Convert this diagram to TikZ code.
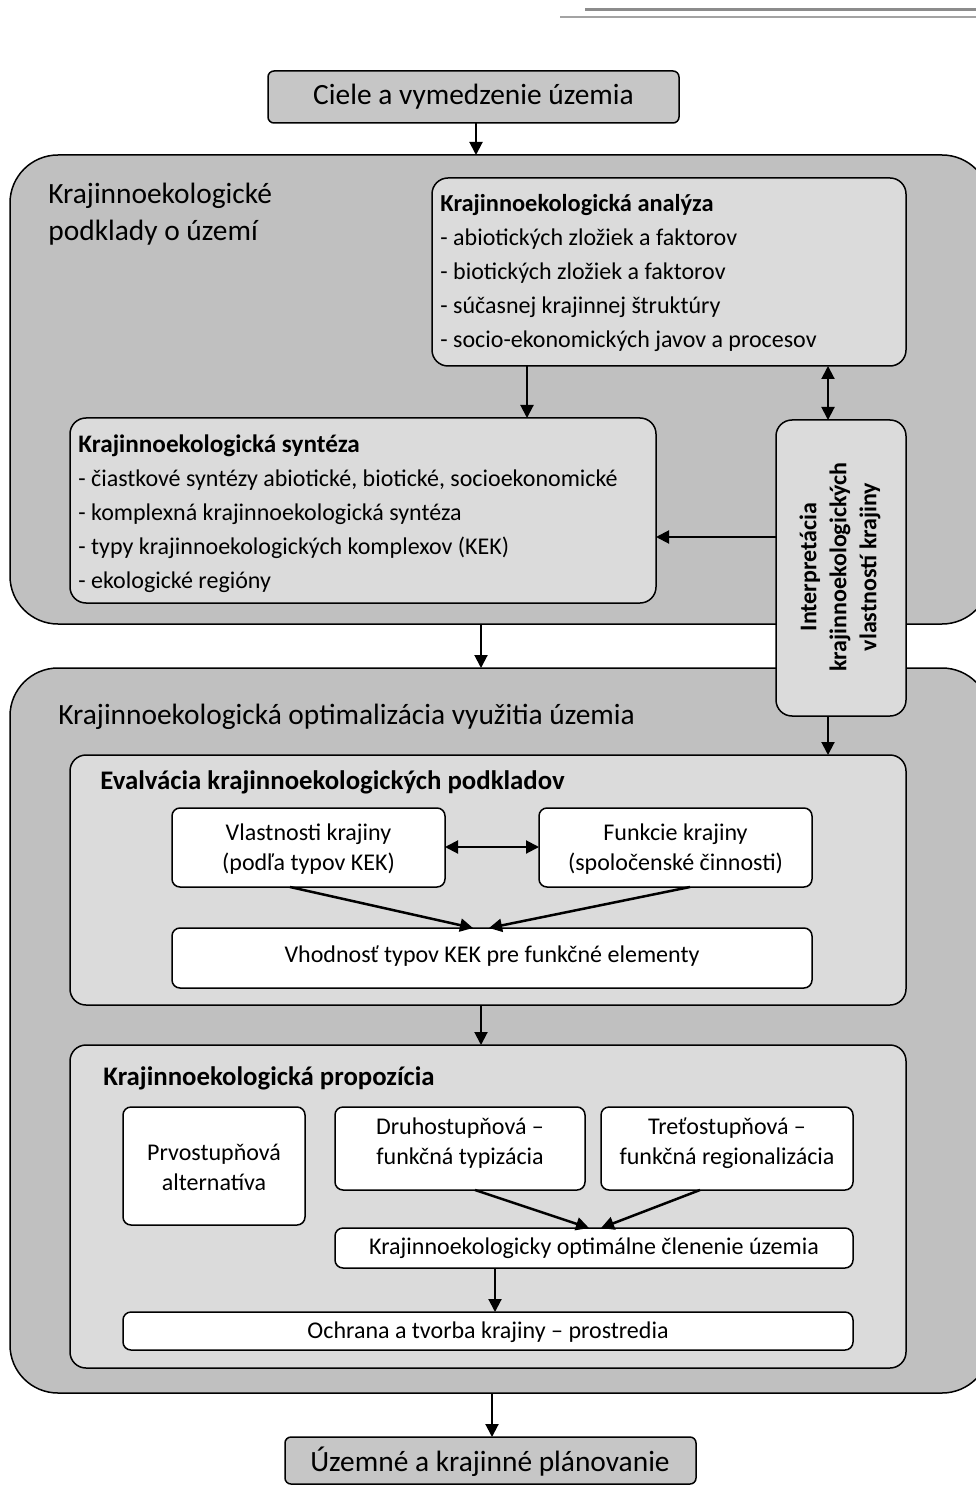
\documentclass[tikz,border=0pt]{standalone}
\usepackage{fontspec}
\setmainfont{Carlito}
\usetikzlibrary{arrows.meta,fit,calc}
\definecolor{outergray}{RGB}{192,192,192}
\definecolor{panelgray}{RGB}{219,219,219}
\definecolor{endgray}{RGB}{198,198,198}
\definecolor{rulegray}{RGB}{140,140,140}
\begin{document}
\begin{tikzpicture}[x=0.5pt,y=-0.5pt,
  box/.style={draw=black, line width=0.75pt, inner sep=0pt, outer sep=0pt},
  outerbox/.style={box, fill=outergray, rounded corners=24pt},
  panel/.style={box, fill=panelgray, rounded corners=8pt},
  whitebox/.style={box, fill=white, rounded corners=4pt},
  endbox/.style={box, fill=endgray, rounded corners=3pt},
  arr/.style={line width=1pt, -{Triangle[length=6.5pt,width=6.5pt]}},
  darr/.style={line width=1pt, {Triangle[length=6.5pt,width=6.5pt]}-{Triangle[length=6.5pt,width=6.5pt]}},
  bigtxt/.style={inner sep=0pt, font=\fontsize{14.7}{18.5}\selectfont},
  listtxt/.style={inner sep=0pt, anchor=base west, font=\fontsize{12}{14}\selectfont},
  headtxt/.style={inner sep=0pt, anchor=base west, font=\fontsize{12.2}{14}\selectfont\bfseries},
  bighead/.style={inner sep=0pt, anchor=base west, font=\fontsize{13.4}{15}\selectfont\bfseries},
  boxtxt/.style={inner sep=0pt, align=center, font=\fontsize{12}{15}\selectfont},
]
\useasboundingbox (0,0) rectangle (975,1486);

% header rules
\draw[rulegray, line width=1.5pt] (585,10) -- (980,10);
\draw[rulegray!80, line width=1pt] (560,17) -- (980,17);

% top box
\node[endbox, fit={(268,71) (679,123)}] (ciele) {};
\node[bigtxt] (cieletxt) at (473.5,97) {Ciele a vymedzenie územia};

% first large panel
\node[outerbox, fit={(10,155) (990,624)}] (podklady) {};
\node[bigtxt, anchor=base west, align=left] (podkladytxt) at (48,241)
  {Krajinnoekologické\\podklady o území};

% analysis
\node[panel, fit={(432,178) (906,366)}] (analyza) {};
\node[headtxt] (anah) at (440,212) {Krajinnoekologická analýza};
\foreach \t [count=\i] in {abiotických zložiek a faktorov,
    biotických zložiek a faktorov,
    súčasnej krajinnej štruktúry,
    socio-ekonomických javov a procesov}
  \node[listtxt] (ana\i) at (440,212+33.8*\i) {- \t};

% synthesis
\node[panel, fit={(70,418) (656,603)}] (synteza) {};
\node[headtxt, font=\fontsize{12.6}{14}\selectfont\bfseries] (synh) at (78,452) {Krajinnoekologická syntéza};
\foreach \t [count=\i] in {{čiastkové syntézy abiotické, biotické, socioekonomické},
    komplexná krajinnoekologická syntéza,
    typy krajinnoekologických komplexov (KEK),
    ekologické regióny}
  \node[listtxt] (syn\i) at (78,452+34*\i) {- \t};

% second large panel
\node[outerbox, fit={(10,668) (990,1393)}] (optim) {};
\node[bigtxt, anchor=base west] (optimtxt) at (58,724)
  {Krajinnoekologická optimalizácia využitia územia};

% interpretation box spanning both panels
\node[panel, fit={(776,420) (906,716)}] (interp) {};
\node[inner sep=0pt, rotate=90, align=center,
      font=\fontsize{12}{15}\selectfont\bfseries] (interptxt) at (840,567)
  {Interpretácia\\krajinnoekologických\\vlastností krajiny};

% evaluation
\node[panel, fit={(70,755) (906,1005)}] (evalv) {};
\node[bighead] (evalh) at (100,789)
  {Evalvácia krajinnoekologických podkladov};
\node[whitebox, fit={(172,808) (445,887)}] (vlast) {};
\node[boxtxt] (vlasttxt) at (308.5,849) {Vlastnosti krajiny\\(podľa typov KEK)};
\node[whitebox, fit={(539,808) (812,887)}] (funk) {};
\node[boxtxt] (funktxt) at (675.5,849) {Funkcie krajiny\\(spoločenské činnosti)};
\node[whitebox, fit={(172,928) (812,988)}] (vhod) {};
\node[boxtxt] (vhodtxt) at (492,956) {Vhodnosť typov KEK pre funkčné elementy};

% proposition
\node[panel, fit={(70,1045) (906,1368)}] (propoz) {};
\node[bighead] (propozh) at (103,1085)
  {Krajinnoekologická propozícia};
\node[whitebox, fit={(123,1107) (305,1225)}] (prvo) {};
\node[boxtxt] (prvotxt) at (214,1167) {Prvostupňová\\alternatíva};
\node[whitebox, fit={(335,1107) (585,1190)}] (druho) {};
\node[boxtxt] (druhotxt) at (460,1143) {Druhostupňová –\\funkčná typizácia};
\node[whitebox, fit={(601,1107) (853,1190)}] (treto) {};
\node[boxtxt] (tretotxt) at (727,1143) {Treťostupňová –\\funkčná regionalizácia};
\node[whitebox, fit={(335,1228) (853,1268)}] (clen) {};
\node[boxtxt] (clentxt) at (594,1248) {Krajinnoekologicky optimálne členenie územia};
\node[whitebox, fit={(123,1312) (853,1350)}] (ochr) {};
\node[boxtxt] (ochrtxt) at (488,1332) {Ochrana a tvorba krajiny – prostredia};

% bottom box
\node[endbox, fit={(285,1437) (696,1484)}] (uzemne) {};
\node[bigtxt] (uzemnetxt) at (490,1462) {Územné a krajinné plánovanie};

% connectors
\draw[arr] (ciele.south -| 476,0) -- (podklady.north -| 476,0);
\draw[arr] (analyza.south -| 527,0) -- (synteza.north -| 527,0);
\draw[darr] (analyza.south -| 828,0) -- (interp.north -| 828,0);
\draw[arr] (interp.west |- 0,537) -- (synteza.east |- 0,537);
\draw[arr] (podklady.south -| 481,0) -- (optim.north -| 481,0);
\draw[arr] (interp.south -| 828,0) -- (evalv.north -| 828,0);
\draw[darr] (vlast.east |- 0,847) -- (funk.west |- 0,847);
\draw[arr, line width=1.25pt] (vlast.south -| 290,0) -- (vhod.north -| 473,0);
\draw[arr, line width=1.25pt] (funk.south -| 690,0) -- (vhod.north -| 489,0);
\draw[arr] (evalv.south -| 481,0) -- (propoz.north -| 481,0);
\draw[arr, line width=1.25pt] (druho.south -| 475,0) -- (clen.north -| 589,0);
\draw[arr, line width=1.25pt] (treto.south -| 700,0) -- (clen.north -| 601,0);
\draw[arr] (clen.south -| 495,0) -- (ochr.north -| 495,0);
\draw[arr] (optim.south -| 492,0) -- (uzemne.north -| 492,0);
\end{tikzpicture}
\end{document}
